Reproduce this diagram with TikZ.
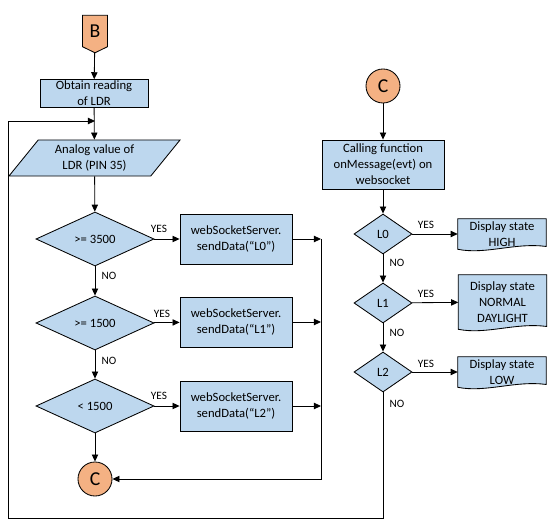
\documentclass[tikz,border=0pt]{standalone}
\usepackage{fontspec}
\setmainfont{Carlito}
\usetikzlibrary{shapes.geometric,shapes.symbols,arrows.meta}
\definecolor{boxblue}{HTML}{BDD7EE}
\definecolor{connorange}{HTML}{F4B183}
% outline of a document shape round a node
\newcommand{\docoutline}[1]{%
  \draw[line width=0.6pt, fill=boxblue] (#1.north west) -- (#1.north east) -- ([yshift=2pt]#1.south east)
    .. controls ([xshift=-22pt,yshift=5pt]#1.south east) and ([xshift=20pt,yshift=-4pt]#1.south west) .. (#1.south west) -- cycle;}
\begin{document}
\begin{tikzpicture}
        [x=0.025cm, y=-0.025cm,
        line/.style={line width=0.6pt},
        arr/.style={line width=0.6pt, -{Triangle[length=5pt,width=4.5pt]}},
        procbox/.style={rectangle, draw, line width=0.6pt, fill=boxblue, align=center, inner sep=1pt, font=\fontsize{9}{11.3}\selectfont},
        iobox/.style={trapezium, trapezium left angle=45, trapezium right angle=135, trapezium stretches body, draw, line width=0.6pt, fill=boxblue, align=center, inner sep=1pt, minimum width=4.275cm, minimum height=0.9cm, font=\fontsize{9}{11.3}\selectfont},
        decision/.style={diamond, draw, line width=0.6pt, fill=boxblue, inner sep=0pt, font=\fontsize{9}{11.3}\selectfont},
        docbox/.style={rectangle, draw=none, align=center, inner sep=1pt, minimum width=2.2cm, font=\fontsize{9}{11.3}\selectfont},
        connector/.style={circle, draw, line width=0.6pt, fill=connorange, minimum size=0.85cm, inner sep=0pt, font=\fontsize{14}{16}\selectfont},
        offpage/.style={signal, signal to=south, signal from=nowhere, signal pointer angle=128, draw, line width=0.6pt, fill=connorange, minimum width=0.625cm, minimum height=0.85cm, inner sep=0pt, font=\fontsize{14}{16}\selectfont},
        lbl/.style={inner sep=0pt, font=\fontsize{8}{9}\selectfont}]
        \useasboundingbox (0,0) rectangle (552,524);

        % left column
        \node[offpage] (B) at (95,31) {B};
        \node[procbox, minimum width=2.7cm, minimum height=0.675cm] (obtain) at (94,93.5) {Obtain reading\\of LDR};
        \node[iobox] (ldr) at (94.5,158) {Analog value of\\LDR (PIN 35)};
        \node[decision, minimum width=2.95cm, minimum height=1.35cm] (d1) at (95,239) {>= 3500};
        \node[decision, minimum width=2.95cm, minimum height=1.35cm] (d2) at (95,323) {>= 1500};
        \node[decision, minimum width=2.95cm, minimum height=1.35cm] (d3) at (95,406) {< 1500};
        \node[procbox, minimum width=2.8cm, minimum height=1.25cm] (s1) at (236,239) {webSocketServer.\\sendData(“L0”)};
        \node[procbox, minimum width=2.8cm, minimum height=1.25cm] (s2) at (236,322) {webSocketServer.\\sendData(“L1”)};
        \node[procbox, minimum width=2.8cm, minimum height=1.25cm] (s3) at (236,406) {webSocketServer.\\sendData(“L2”)};
        \node[connector] (cl) at (95,479) {C};

        \node[lbl] (yes1) at (159,229) {YES};
        \node[lbl] (yes2) at (162,314) {YES};
        \node[lbl] (yes3) at (159,396) {YES};
        \node[lbl] (no1) at (109,276) {NO};
        \node[lbl] (no2) at (109,361) {NO};

        \coordinate (m1) at (321,239);
        \coordinate (m2) at (321,322);
        \coordinate (m3) at (321,406);
        \coordinate (mc) at (321,479);
        \coordinate (loopin) at (95,121);

        % right column
        \node[connector] (cr) at (383,86) {C};
        \node[procbox, minimum width=3.05cm, minimum height=1.225cm] (call) at (383,164.5) {Calling function\\onMessage(evt) on\\websocket};
        \node[decision, minimum width=1.45cm, minimum height=1cm] (l0) at (383,234) {L0};
        \node[decision, minimum width=1.45cm, minimum height=1cm] (l1) at (383,303) {L1};
        \node[decision, minimum width=1.45cm, minimum height=1cm] (l2) at (383,372) {L2};
        \node[docbox, minimum height=0.75cm] (high) at (502,234) {Display state\\HIGH};
        \node[docbox, minimum height=1.35cm] (normal) at (502.5,302) {Display state\\NORMAL\\DAYLIGHT};
        \node[docbox, minimum height=0.75cm] (low) at (502,372) {Display state\\LOW};
        \docoutline{high}
        \docoutline{normal}
        \docoutline{low}
        \node[docbox, minimum height=0.75cm] at (high) {Display state\\HIGH};
        \node[docbox, minimum height=1.35cm] at (normal) {Display state\\NORMAL\\DAYLIGHT};
        \node[docbox, minimum height=0.75cm] at (low) {Display state\\LOW};

        \node[lbl] (yes4) at (426,225) {YES};
        \node[lbl] (yes5) at (426,294) {YES};
        \node[lbl] (yes6) at (426,364) {YES};
        \node[lbl] (no3) at (397,263) {NO};
        \node[lbl] (no4) at (397,333) {NO};
        \node[lbl] (no5) at (397,404) {NO};

        \coordinate (c1) at (383,518);
        \coordinate (c2) at (8,518);
        \coordinate (c3) at (8,121);

        \draw[arr] (B) -- (obtain);
        \draw[arr] (obtain) -- (ldr);
        \draw[arr] (ldr) -- (d1);
        \draw[arr] (d1) -- (d2);
        \draw[arr] (d2) -- (d3);
        \draw[arr] (d3) -- (cl);
        \draw[arr] (d1) -- (s1);
        \draw[arr] (d2) -- (s2);
        \draw[arr] (d3) -- (s3);
        \draw[arr] (s1) -- (m1);
        \draw[arr] (s2) -- (m2);
        \draw[arr] (s3) -- (m3);
        \draw[arr] (m1) -- (mc) -- (cl);

        \draw[arr] (cr) -- (call);
        \draw[arr] (call) -- (l0);
        \draw[arr] (l0) -- (l1);
        \draw[arr] (l1) -- (l2);
        \draw[arr] (l0) -- (high);
        \draw[arr] (l1) -- (normal);
        \draw[arr] (l2) -- (low);
        \draw[arr] (l2) -- (c1) -- (c2) -- (c3) -- (loopin);
    \end{tikzpicture}
\end{document}
